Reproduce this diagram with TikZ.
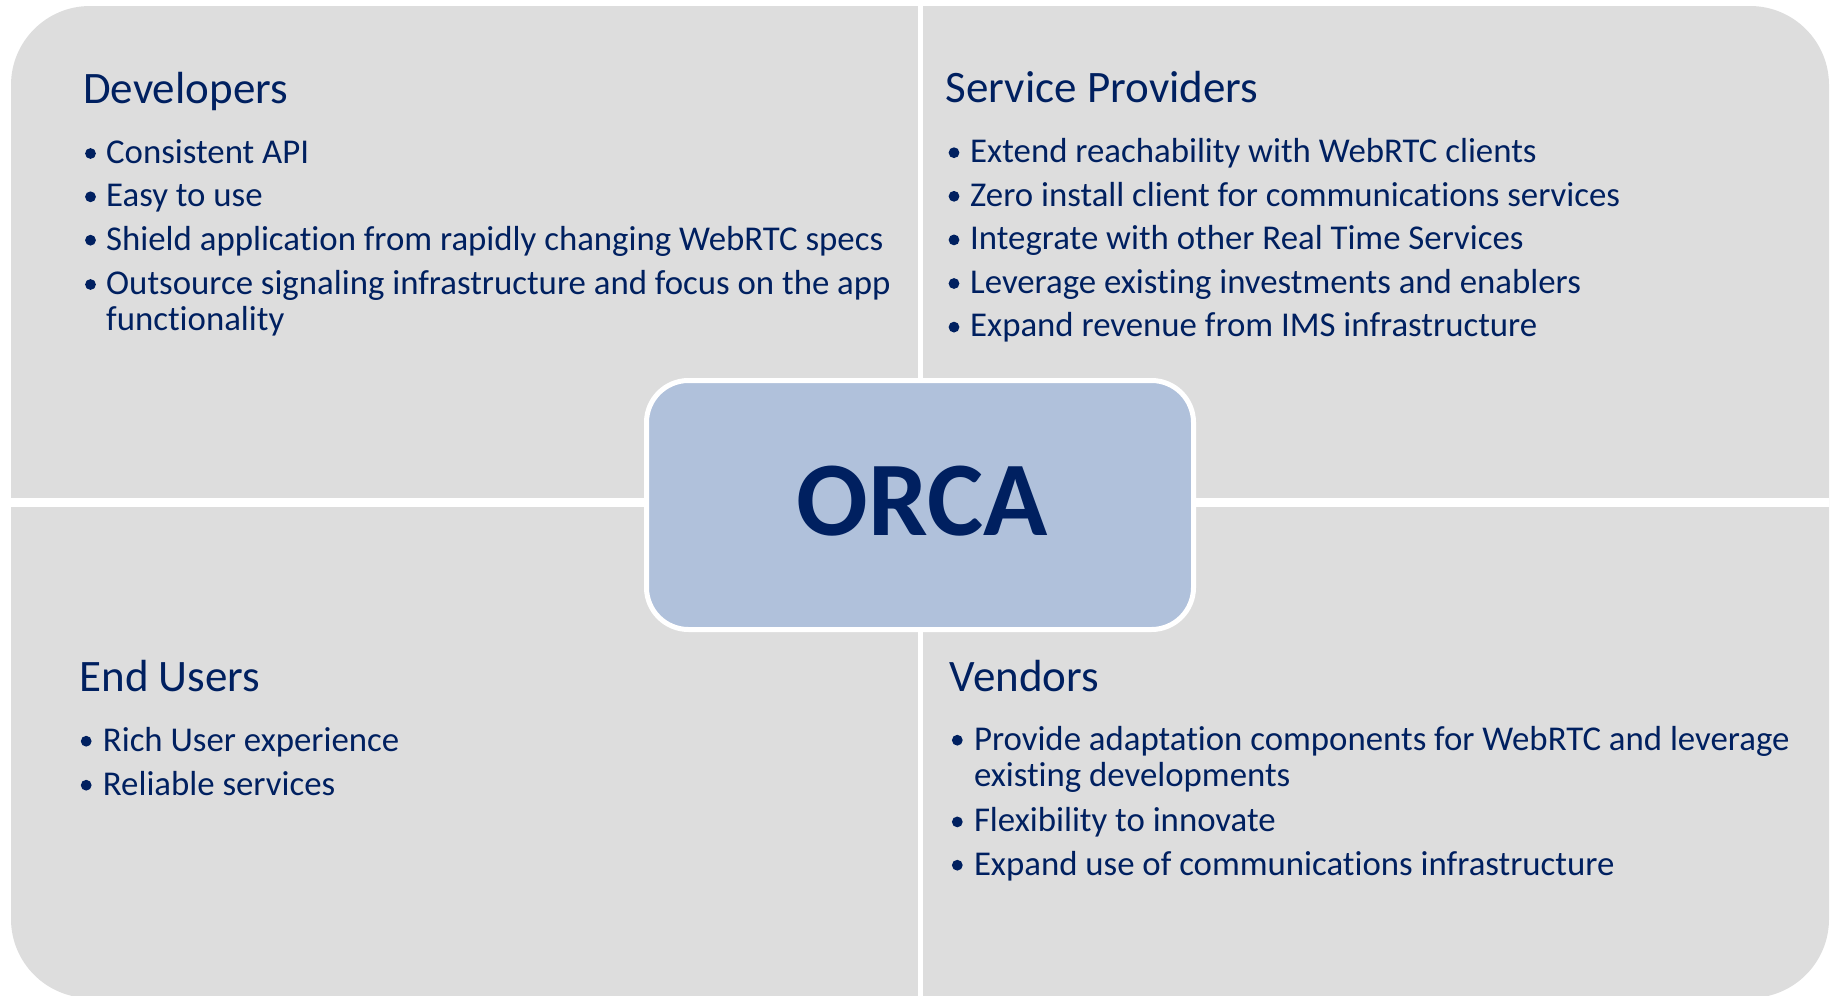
\documentclass[tikz,border=0pt]{standalone}
\usepackage{fontspec}
\setmainfont{Carlito}[Ligatures={NoCommon,NoRare}]
\definecolor{navy}{RGB}{0,32,96}
\definecolor{panel}{RGB}{221,221,221}
\definecolor{orcafill}{RGB}{176,193,219}
\begin{document}
\begin{tikzpicture}[x=1pt,y=-1pt,
  head/.style={anchor=base west, inner sep=0, text=navy, font=\fontsize{45}{48}\selectfont},
  item/.style={anchor=base west, inner sep=0, text=navy, font=\fontsize{34.8}{38}\selectfont},
  bulletdot/.style={fill=navy}]
\useasboundingbox (0,0) rectangle (1837,996);
% panel background
\fill[panel, rounded corners=79pt] (11,6) rectangle (1829,998);
% dividers
\fill[white] (917.5,6) rectangle (922.5,998);
\fill[white] (11,497.7) rectangle (1829,507.3);
% centre box
\node[draw=white, line width=5pt, fill=orcafill, rounded corners=42pt,
      minimum width=547pt, minimum height=249pt, inner sep=0] (orca) at (920,505) {};
\node[anchor=base, inner sep=0, text=navy, font=\bfseries\fontsize{106}{110}\selectfont] (orcalabel) at (922,535) {ORCA};

% Developers
\node[head] (devh) at (83,103.3) {Developers};
\node[item] (dev1) at (106,163.3) {Consistent API};
\node[item] (dev2) at (106,206.6) {Easy to use};
\node[item] (dev3) at (106,250) {Shield application from rapidly changing WebRTC specs};
\node[item] (dev4) at (106,294.3) {Outsource signaling infrastructure and focus on the app};
\node[item] (dev4b) at (106,330) {functionality};
\foreach \y in {163.3,206.6,250,294.3} \fill[bulletdot] (90.5,\y-9.8) circle (5.4pt);

% Service Providers
\node[head] (sph) at (945.6,102.7) {Service Providers};
\node[item] (sp1) at (970,162.5) {Extend reachability with WebRTC clients};
\node[item] (sp2) at (970,206.1) {Zero install client for communications services};
\node[item] (sp3) at (970,249.7) {Integrate with other Real Time Services};
\node[item] (sp4) at (970,293.3) {Leverage existing investments and enablers};
\node[item] (sp5) at (970,336.9) {Expand revenue from IMS infrastructure};
\foreach \y in {162.5,206.1,249.7,293.3,336.9} \fill[bulletdot] (954,\y-9.8) circle (5.4pt);

% End Users
\node[head] (euh) at (79.3,691.7) {End Users};
\node[item] (eu1) at (102.7,751) {Rich User experience};
\node[item] (eu2) at (102.7,795) {Reliable services};
\foreach \y in {751,795} \fill[bulletdot] (86.2,\y-9.8) circle (5.4pt);

% Vendors
\node[head] (vh) at (949.6,691.7) {Vendors};
\node[item] (v1) at (973.8,750) {Provide adaptation components for WebRTC and leverage};
\node[item] (v1b) at (973.8,786.7) {existing developments};
\node[item] (v2) at (973.8,831.7) {Flexibility to innovate};
\node[item] (v3) at (973.8,875) {Expand use of communications infrastructure};
\foreach \y in {750,831.7,875} \fill[bulletdot] (957.3,\y-9.8) circle (5.4pt);
\end{tikzpicture}
\end{document}
